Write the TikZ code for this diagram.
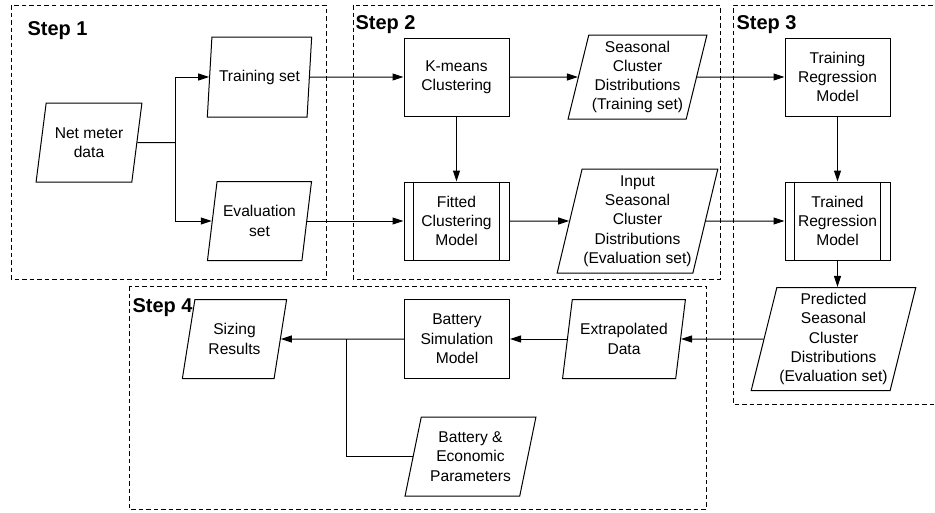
\documentclass[tikz,border=0pt]{standalone}
\usepackage{fontspec}
\setmainfont{Liberation Sans}
\usetikzlibrary{shapes.geometric,arrows.meta}
\begin{document}
\begin{tikzpicture}[x=1pt,y=-1pt,line width=1pt,
  every node/.style={font=\fontsize{15.6}{19.3}\selectfont, align=center, inner sep=0pt},
  proc/.style={draw, rectangle, minimum width=105pt, minimum height=78pt},
  subproc/.style={proc, append after command={
      ([xshift=10pt]\tikzlastnode.north west) edge ([xshift=10pt]\tikzlastnode.south west)
      ([xshift=-10pt]\tikzlastnode.north east) edge ([xshift=-10pt]\tikzlastnode.south east)}},
  data/.style 2 args={draw, trapezium, trapezium left angle=75, trapezium right angle=105,
      trapezium stretches=true, minimum width=#1, minimum height=#2},
  arr/.style={-{Triangle[length=11pt,width=7pt]}},
  frame/.style={line width=0.9pt, dash pattern=on 4.5pt off 3pt},
  steplabel/.style={font=\fontsize{20}{24}\selectfont\bfseries, anchor=base west}
]
\useasboundingbox (0,0) rectangle (935,512);
\clip (0,0) rectangle (935,512);

% frames
\draw[frame] (11,5) rectangle (326,279);
\draw[frame] (353,5) rectangle (720,279);
\draw[frame] (940,5) -- (733,5) -- (733,404) -- (940,404);
\draw[frame] (129,286) rectangle (706,509);

\node[steplabel] (s1) at (27,35.5) {Step 1};
\node[steplabel] (s2) at (355,29) {Step 2};
\node[steplabel] (s3) at (736,29) {Step 3};
\node[steplabel] (s4) at (132,312) {Step 4};

% nodes
\node[data={106pt}{79pt}] (net) at (89,142.5) {Net meter\\data};
\node[data={105pt}{80pt}] (train) at (259.5,77) {Training set};
\node[data={105pt}{79pt}] (eval) at (259.5,221) {Evaluation\\set};
\node[proc] (kmeans) at (456.5,77) {K-means\\Clustering};
\node[subproc] (fitted) at (456.5,221) {Fitted\\Clustering\\Model};
\node[data={139pt}{84pt}] (scdtrain) at (637.5,77) {Seasonal\\Cluster\\Distributions\\(Training set)};
\node[data={161pt}{104pt}] (scdeval) at (637.5,221) {Input\\Seasonal\\Cluster\\Distributions\\(Evaluation set)};
\node[proc] (trreg) at (837.5,77) {Training\\Regression\\Model};
\node[subproc] (tdreg) at (837.5,221) {Trained\\Regression\\Model};
\node[data={165pt}{103pt}] (pred) at (833.5,339) {Predicted\\Seasonal\\Cluster\\Distributions\\(Evaluation set)};
\node[data={123pt}{79pt}] (extra) at (624,339) {Extrapolated\\Data};
\node[proc, minimum height=79pt] (bsim) at (457,339) {Battery\\Simulation\\Model};
\node[data={105pt}{79pt}] (sizing) at (234.5,339) {Sizing\\Results};
\node[data={131pt}{79pt}] (bep) at (470.5,456.5) {Battery \&\\Economic\\Parameters};

% connectors
\coordinate (split) at (175,142.5);
\draw (net) -- (split);
\draw[arr] (split) |- (train);
\draw[arr] (split) |- (eval);
\draw[arr] (train) -- (kmeans);
\draw[arr] (eval) -- (fitted);
\draw[arr] (kmeans) -- (fitted);
\draw[arr] (kmeans) -- (scdtrain);
\draw[arr] (fitted) -- (scdeval);
\draw[arr] (scdtrain) -- (trreg);
\draw[arr] (scdeval) -- (tdreg);
\draw[arr] (trreg) -- (tdreg);
\draw[arr] (tdreg.south) -- (tdreg.south |- pred.north);
\draw[arr] (pred) -- (extra);
\draw[arr] (extra) -- (bsim);
\draw[arr] (bsim) -- (sizing);
\coordinate (j) at (346,339);
\draw (j) |- (bep);
\end{tikzpicture}
\end{document}
